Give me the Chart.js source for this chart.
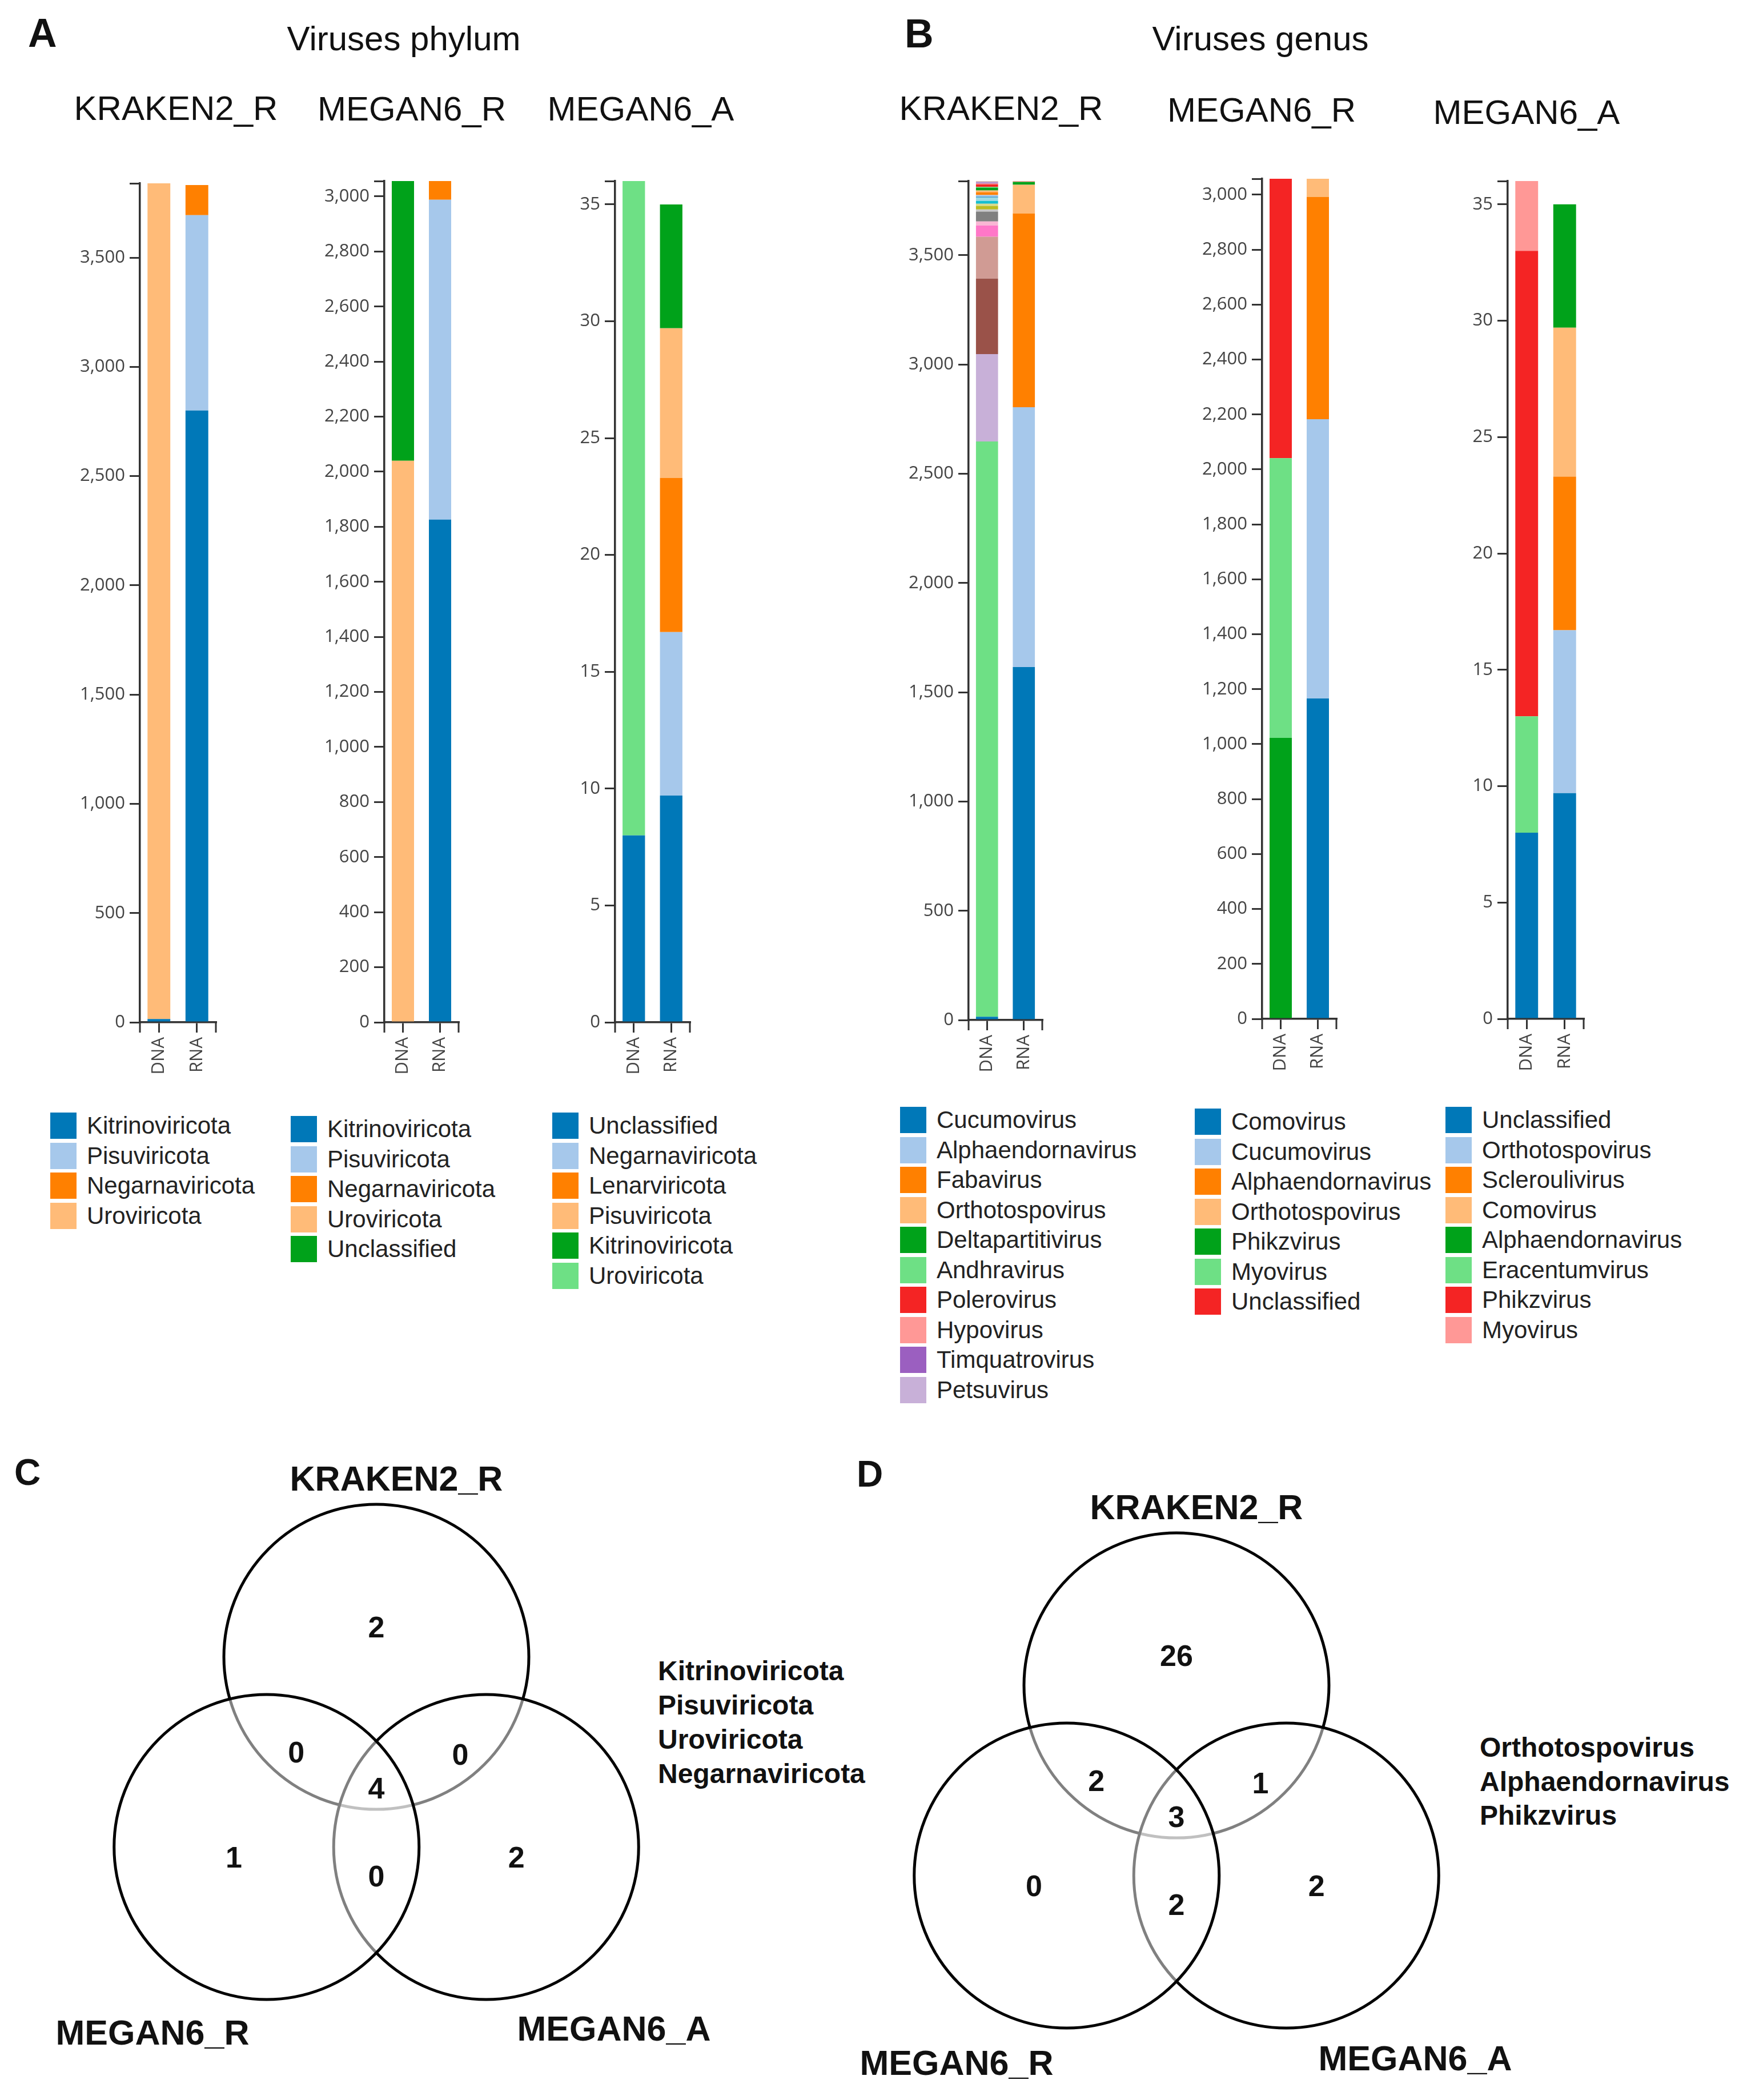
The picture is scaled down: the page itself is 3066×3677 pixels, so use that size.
<!DOCTYPE html>
<html>
<head>
<meta charset="utf-8">
<title>Viruses phylum and genus</title>
<script src="https://cdn.jsdelivr.net/npm/chart.js@4.4.1/dist/chart.umd.min.js"></script>
<style>
  html, body { margin: 0; padding: 0; background: #fff; }
  #page { position: relative; width: 3066px; height: 3677px; overflow: hidden;
          font-family: "Liberation Sans", Arial, sans-serif; color: #111; }
  .txt { position: absolute; white-space: nowrap; line-height: 1; }
  canvas { position: absolute; }
  .legend { position: absolute; }
  .legend-row { display: flex; align-items: center; height: 52.5px; }
  .legend-swatch { width: 46px; height: 46px; margin-right: 18px; flex: none; }
  .legend-label { font-size: 42px; color: #222; white-space: nowrap; }
</style>
</head>
<body>
<div id="page"></div>
<script>
// ---- data -------------------------------------------------------------
const sampleLabels = ["DNA", "RNA"];

const countTicksBig = [0, 500, 1000, 1500, 2000, 2500, 3000, 3500];
const countTicksSmall = [0, 200, 400, 600, 800, 1000, 1200, 1400, 1600, 1800, 2000, 2200, 2400, 2600, 2800, 3000];
const meanTicks = [0, 5, 10, 15, 20, 25, 30, 35];

// A - phylum
const krakenPhylumNames = ["Kitrinoviricota", "Pisuviricota", "Negarnaviricota", "Uroviricota"];
const krakenPhylumDNA = [15, 0, 0, 3825];
const krakenPhylumRNA = [2800, 894, 138, 0];

const meganRPhylumNames = ["Kitrinoviricota", "Pisuviricota", "Negarnaviricota", "Uroviricota", "Unclassified"];
const meganRPhylumDNA = [0, 0, 0, 2040, 1016];
const meganRPhylumRNA = [1826, 1162, 68, 0, 0];

const meganAPhylumNames = ["Unclassified", "Negarnaviricota", "Lenarviricota", "Pisuviricota", "Kitrinoviricota", "Uroviricota"];
const meganAPhylumDNA = [8, 0, 0, 0, 0, 28];
const meganAPhylumRNA = [9.7, 7, 6.6, 6.4, 5.3, 0];

// B - genus (only the first ten KRAKEN2 genera are named in the legend)
const krakenGenusNames = [
  "Cucumovirus", "Alphaendornavirus", "Fabavirus", "Orthotospovirus", "Deltapartitivirus",
  "Andhravirus", "Polerovirus", "Hypovirus", "Timquatrovirus", "Petsuvirus",
  "Genus 11", "Genus 12", "Genus 13", "Genus 14", "Genus 15", "Genus 16", "Genus 17",
  "Genus 18", "Genus 19", "Genus 20", "Genus 21", "Genus 22", "Genus 23", "Genus 24",
  "Genus 25", "Genus 26", "Genus 27", "Genus 28", "Genus 29", "Genus 30", "Genus 31", "Genus 32",
];
const krakenGenusDNA = [15, 0, 0, 0, 0, 2632, 0, 0, 0, 400, 346, 191, 52, 18, 45, 10,
  16, 10, 13, 16, 3, 8, 13, 8, 13, 3, 12, 4, 4, 3, 2, 1];
const krakenGenusRNA = [1615, 1189, 887, 131, 13, 0, 0, 4, 0, 0, 0, 0, 0, 0, 0, 0,
  0, 0, 0, 0, 0, 0, 0, 0, 0, 0, 0, 0, 0, 0, 0, 0];

const meganRGenusNames = ["Comovirus", "Cucumovirus", "Alphaendornavirus", "Orthotospovirus", "Phikzvirus", "Myovirus", "Unclassified"];
const meganRGenusDNA = [0, 0, 0, 0, 1023, 1018, 1017];
const meganRGenusRNA = [1166, 1017, 809, 66, 0, 0, 0];

const meganAGenusNames = ["Unclassified", "Orthotospovirus", "Scleroulivirus", "Comovirus", "Alphaendornavirus", "Eracentumvirus", "Phikzvirus", "Myovirus"];
const meganAGenusDNA = [8, 0, 0, 0, 0, 5, 20, 3];
const meganAGenusRNA = [9.7, 7, 6.6, 6.4, 5.3, 0, 0, 0];

// C / D - venn counts: K only, K&R, K&A, all, R only, R&A, A only
const phylumVennCounts = [2, 0, 0, 4, 1, 0, 2];
const genusVennCounts = [26, 2, 1, 3, 0, 2, 2];
const phylumShared = ["Kitrinoviricota", "Pisuviricota", "Uroviricota", "Negarnaviricota"];
const genusShared = ["Orthotospovirus", "Alphaendornavirus", "Phikzvirus"];

// ---- style / layout ---------------------------------------------------
const PALETTE = [
  "#0078b8", "#a6c8eb", "#ff8000", "#ffbb78", "#00a21a", "#6ee085", "#f42424", "#ff9896",
  "#9b5fc0", "#c8b0d8", "#9a5249", "#d09b94", "#ff77c8", "#f9b6d4", "#808080", "#c8c8c8",
  "#bcbd22", "#dbdb8d", "#17becf", "#9edae5",
];
const AXIS_COLOR = "#333";
const TICK_COLOR = "#444";
const TICK_LEN = 18;
const Y_AXIS_W = 140;
const X_AXIS_H = 130;
const PAD_TOP = 30;
const PAD_RIGHT = 30;
const SANS = '"Liberation Sans", Arial, sans-serif';

const barCharts = [
  { names: krakenPhylumNames, dna: krakenPhylumDNA, rna: krakenPhylumRNA, ticks: countTicksBig,
    box: { axisX: 245, rightX: 378, topY: 321, zeroY: 1790 }, legend: { left: 88, top: 1945 } },
  { names: meganRPhylumNames, dna: meganRPhylumDNA, rna: meganRPhylumRNA, ticks: countTicksSmall,
    box: { axisX: 673, rightX: 803, topY: 317, zeroY: 1790 }, legend: { left: 509, top: 1951 } },
  { names: meganAPhylumNames, dna: meganAPhylumDNA, rna: meganAPhylumRNA, ticks: meanTicks,
    box: { axisX: 1077, rightX: 1208, topY: 317, zeroY: 1790 }, legend: { left: 967, top: 1945 } },
  { names: krakenGenusNames, dna: krakenGenusDNA, rna: krakenGenusRNA, ticks: countTicksBig, legendCount: 10,
    box: { axisX: 1696, rightX: 1825, topY: 317, zeroY: 1786 }, legend: { left: 1576, top: 1935 } },
  { names: meganRGenusNames, dna: meganRGenusDNA, rna: meganRGenusRNA, ticks: countTicksSmall,
    box: { axisX: 2210, rightX: 2340, topY: 313, zeroY: 1784 }, legend: { left: 2092, top: 1938 } },
  { names: meganAGenusNames, dna: meganAGenusDNA, rna: meganAGenusRNA, ticks: meanTicks,
    box: { axisX: 2640, rightX: 2773, topY: 317, zeroY: 1784 }, legend: { left: 2531, top: 1935 } },
];

// venn geometry in circle-radius units (1 unit = VENN_R px); drawing order top, right, left
const VENN_R = 267;
const VENN_CENTRES = [{ x: 0, y: 1.247 }, { x: 0.72, y: 0 }, { x: -0.72, y: 0 }];
const VENN_ANCHORS = [
  { x: 0, y: 1.444 }, { x: -0.525, y: 0.625 }, { x: 0.55, y: 0.61 }, { x: 0, y: 0.388 },
  { x: -0.935, y: -0.065 }, { x: 0, y: -0.19 }, { x: 0.918, y: -0.065 },
];

const page = document.getElementById("page");

function addText(str, x, baseline, size, opts = {}) {
  const el = document.createElement("div");
  el.className = "txt";
  el.textContent = str;
  el.style.fontSize = size + "px";
  el.style.fontWeight = opts.bold ? "bold" : "normal";
  el.style.top = (baseline - 0.8465 * size) + "px";
  el.style.left = x + "px";
  if (opts.center) el.style.transform = "translateX(-50%)";
  page.appendChild(el);
}

function addCanvas(left, top, width, height) {
  const canvas = document.createElement("canvas");
  canvas.width = width;
  canvas.height = height;
  canvas.style.left = left + "px";
  canvas.style.top = top + "px";
  canvas.style.width = width + "px";
  canvas.style.height = height + "px";
  page.appendChild(canvas);
  return canvas;
}

function addLegend(names, pos, count) {
  const box = document.createElement("div");
  box.className = "legend";
  box.style.left = pos.left + "px";
  box.style.top = pos.top + "px";
  names.slice(0, count || names.length).forEach((name, i) => {
    const row = document.createElement("div");
    row.className = "legend-row";
    const sw = document.createElement("div");
    sw.className = "legend-swatch";
    sw.style.background = PALETTE[i % PALETTE.length];
    const lab = document.createElement("div");
    lab.className = "legend-label";
    lab.textContent = name;
    row.appendChild(sw);
    row.appendChild(lab);
    box.appendChild(row);
  });
  page.appendChild(box);
}

const axisEnds = {
  id: "axisEnds",
  afterDraw(chart) {
    const { ctx, chartArea: a } = chart;
    ctx.save();
    ctx.strokeStyle = AXIS_COLOR;
    ctx.lineWidth = 3;
    ctx.beginPath();
    [a.left, a.right].forEach((x) => {
      ctx.moveTo(x, a.bottom);
      ctx.lineTo(x, a.bottom + TICK_LEN);
    });
    ctx.stroke();
    ctx.restore();
  },
};

function renderBarChart(cfg) {
  const { box } = cfg;
  const width = Y_AXIS_W + (box.rightX - box.axisX) + PAD_RIGHT;
  const height = PAD_TOP + (box.zeroY - box.topY) + X_AXIS_H;
  const canvas = addCanvas(box.axisX - Y_AXIS_W, box.topY - PAD_TOP, width, height);

  const totals = sampleLabels.map((_, i) => cfg.names.reduce((s, _n, k) => s + (i === 0 ? cfg.dna[k] : cfg.rna[k]), 0));
  const yMax = Math.max(...totals);

  const gridOpts = {
    display: true, drawOnChartArea: false, drawTicks: true, tickLength: TICK_LEN,
    offset: false, color: AXIS_COLOR, lineWidth: 3,
  };
  const tickFont = { family: "'Open Sans', sans-serif", size: 31 };

  new Chart(canvas, {
    type: "bar",
    data: {
      labels: sampleLabels,
      datasets: cfg.names.map((name, k) => ({
        label: name,
        data: [cfg.dna[k], cfg.rna[k]],
        backgroundColor: PALETTE[k % PALETTE.length],
        borderWidth: 0,
        barPercentage: 0.6,
        categoryPercentage: 1,
      })),
    },
    options: {
      responsive: false,
      animation: false,
      events: [],
      layout: { padding: { top: PAD_TOP, right: PAD_RIGHT, left: 0, bottom: 0 } },
      plugins: { legend: { display: false }, tooltip: { enabled: false } },
      scales: {
        x: {
          stacked: true,
          grid: gridOpts,
          border: { display: true, color: AXIS_COLOR, width: 3.5 },
          ticks: { color: TICK_COLOR, font: tickFont, maxRotation: 90, minRotation: 90, padding: 8, autoSkip: false },
          afterFit(scale) { scale.height = X_AXIS_H; },
        },
        y: {
          stacked: true,
          min: 0,
          max: yMax,
          grid: gridOpts,
          border: { display: true, color: AXIS_COLOR, width: 3.5 },
          ticks: {
            color: TICK_COLOR, font: tickFont, padding: 8, autoSkip: false,
            callback: (v) => (v === yMax ? "" : Number(v).toLocaleString("en-US")),
          },
          afterBuildTicks(scale) { scale.ticks = cfg.ticks.concat([yMax]).map((v) => ({ value: v })); },
          afterFit(scale) { scale.width = Y_AXIS_W; },
        },
      },
    },
    plugins: [axisEnds],
  });

  addLegend(cfg.names, cfg.legend, cfg.legendCount);
}

const vennLabels = {
  id: "vennLabels",
  afterDatasetsDraw(chart, args, opts) {
    const { ctx, scales: { x, y } } = chart;
    ctx.save();
    ctx.font = "bold 52px " + SANS;
    ctx.fillStyle = "#111";
    ctx.textAlign = "center";
    ctx.textBaseline = "alphabetic";
    opts.counts.forEach((n, i) => {
      const a = VENN_ANCHORS[i];
      ctx.fillText(String(n), x.getPixelForValue(a.x), y.getPixelForValue(a.y) + 0.358 * 52);
    });
    ctx.restore();
  },
};

function renderVenn(counts, frame) {
  const canvas = addCanvas(frame.left, frame.top, frame.width, frame.height);
  const cx = frame.cx - frame.left;
  const cy = frame.cy - frame.top;
  new Chart(canvas, {
    type: "scatter",
    data: {
      datasets: [{
        data: VENN_CENTRES.map((p) => ({ x: p.x, y: p.y })),
        pointRadius: VENN_R,
        pointHoverRadius: VENN_R,
        pointBorderWidth: 5,
        pointBackgroundColor: "rgba(255,255,255,0.5)",
        pointBorderColor: "#000",
        showLine: false,
        clip: false,
      }],
    },
    options: {
      responsive: false,
      animation: false,
      events: [],
      layout: { padding: 0, autoPadding: false },
      plugins: { legend: { display: false }, tooltip: { enabled: false }, vennLabels: { counts } },
      scales: {
        x: { type: "linear", display: false, min: -cx / VENN_R, max: (frame.width - cx) / VENN_R },
        y: { type: "linear", display: false, min: -(frame.height - cy) / VENN_R, max: cy / VENN_R },
      },
    },
    plugins: [vennLabels],
  });
}

document.addEventListener("DOMContentLoaded", () => {
  Chart.defaults.font.family = "'Open Sans', sans-serif";

  // headings
  addText("A", 49, 82, 70, { bold: true });
  addText("B", 1584, 83, 70, { bold: true });
  addText("Viruses phylum", 707, 89, 60, { center: true });
  addText("Viruses genus", 2207, 89, 60, { center: true });
  addText("KRAKEN2_R", 308, 211, 60, { center: true });
  addText("MEGAN6_R", 721, 212, 60, { center: true });
  addText("MEGAN6_A", 1122, 212, 60, { center: true });
  addText("KRAKEN2_R", 1753, 211, 60, { center: true });
  addText("MEGAN6_R", 2209, 214, 60, { center: true });
  addText("MEGAN6_A", 2673, 218, 60, { center: true });

  barCharts.forEach(renderBarChart);

  // venn panels
  addText("C", 25, 2600, 64, { bold: true });
  addText("D", 1500, 2603, 64, { bold: true });

  addText("KRAKEN2_R", 694, 2611, 61, { bold: true, center: true });
  addText("MEGAN6_R", 267, 3581, 61, { bold: true, center: true });
  addText("MEGAN6_A", 1075, 3574, 61, { bold: true, center: true });
  addText("KRAKEN2_R", 2095, 2661, 61, { bold: true, center: true });
  addText("MEGAN6_R", 1675, 3634, 61, { bold: true, center: true });
  addText("MEGAN6_A", 2478, 3626, 61, { bold: true, center: true });

  phylumShared.forEach((name, i) => addText(name, 1152, 2943 + i * 60, 48, { bold: true }));
  genusShared.forEach((name, i) => addText(name, 2591, 3077 + i * 59.5, 48, { bold: true }));

  renderVenn(phylumVennCounts, { left: 150, top: 2600, width: 1020, height: 950, cx: 659, cy: 3234 });
  renderVenn(genusVennCounts, { left: 1560, top: 2650, width: 1010, height: 950, cx: 2060, cy: 3284 });
});
</script>
</body>
</html>
